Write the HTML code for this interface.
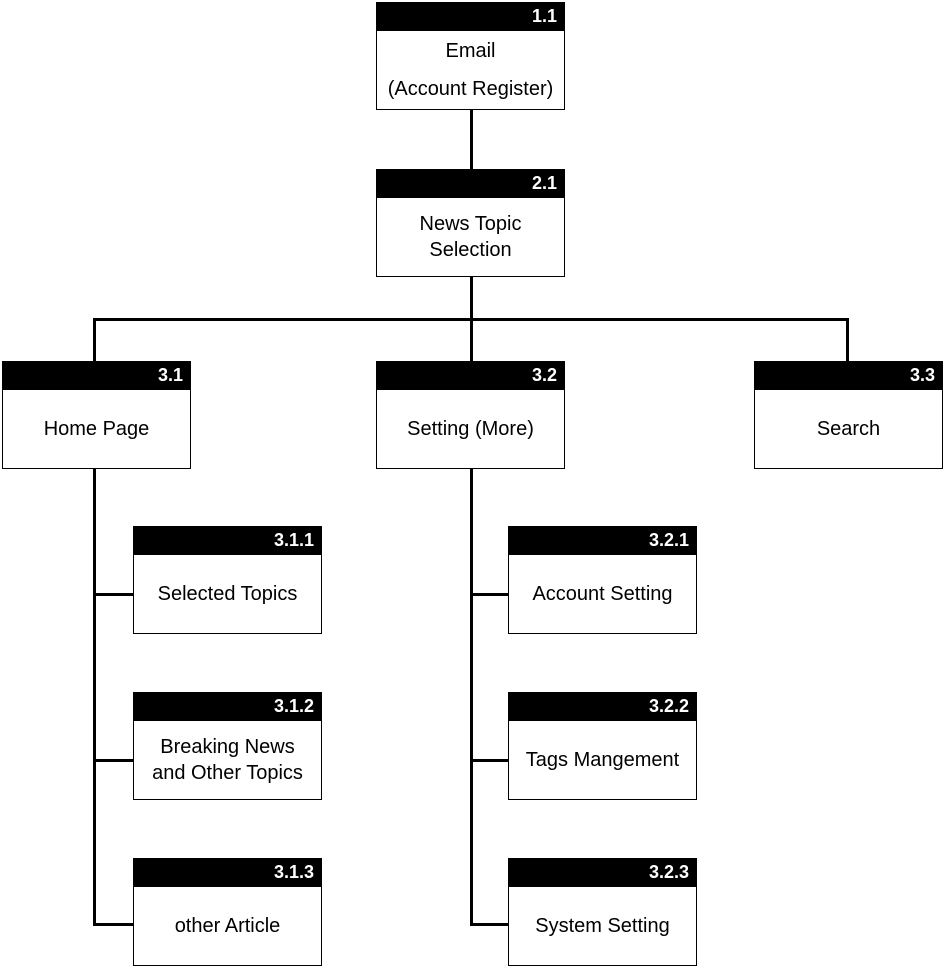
<!DOCTYPE html>
<html><head><style>
body{margin:0;width:945px;height:969px;background:#fff;position:relative;font-family:"Liberation Sans",sans-serif;overflow:hidden}
.b{position:absolute;width:187px;height:106px;border:1px solid #000;background:#fff;box-sizing:content-box}
.h{height:28px;background:#000;color:#fff;font-weight:bold;font-size:18px;text-align:right;padding-right:7px;line-height:26px}
.t{height:78px;display:flex;align-items:center;justify-content:center;text-align:center;font-size:20px;line-height:26px;color:#000}
.l{position:absolute;background:#000}
</style></head><body>
<div class="l" style="left:470px;top:108px;width:3px;height:62px"></div>
<div class="l" style="left:470px;top:276px;width:3px;height:86px"></div>
<div class="l" style="left:93px;top:318px;width:756px;height:3px"></div>
<div class="l" style="left:93px;top:318px;width:3px;height:44px"></div>
<div class="l" style="left:846px;top:318px;width:3px;height:44px"></div>
<div class="l" style="left:93px;top:468px;width:3px;height:458px"></div>
<div class="l" style="left:470px;top:468px;width:3px;height:458px"></div>
<div class="l" style="left:93px;top:593px;width:41px;height:3px"></div>
<div class="l" style="left:93px;top:759px;width:41px;height:3px"></div>
<div class="l" style="left:93px;top:923px;width:41px;height:3px"></div>
<div class="l" style="left:470px;top:593px;width:39px;height:3px"></div>
<div class="l" style="left:470px;top:759px;width:39px;height:3px"></div>
<div class="l" style="left:470px;top:923px;width:39px;height:3px"></div>

<div class="b" style="left:376px;top:2px"><div class="h">1.1</div><div class="t" style="flex-direction:column;line-height:38px">Email<br>(Account Register)</div></div>
<div class="b" style="left:376px;top:169px"><div class="h">2.1</div><div class="t">News Topic<br>Selection</div></div>
<div class="b" style="left:2px;top:361px"><div class="h">3.1</div><div class="t">Home Page</div></div>
<div class="b" style="left:376px;top:361px"><div class="h">3.2</div><div class="t">Setting (More)</div></div>
<div class="b" style="left:754px;top:361px"><div class="h">3.3</div><div class="t">Search</div></div>
<div class="b" style="left:133px;top:526px"><div class="h">3.1.1</div><div class="t">Selected Topics</div></div>
<div class="b" style="left:133px;top:692px"><div class="h">3.1.2</div><div class="t">Breaking News<br>and Other Topics</div></div>
<div class="b" style="left:133px;top:858px"><div class="h">3.1.3</div><div class="t">other Article</div></div>
<div class="b" style="left:508px;top:526px"><div class="h">3.2.1</div><div class="t">Account Setting</div></div>
<div class="b" style="left:508px;top:692px"><div class="h">3.2.2</div><div class="t">Tags Mangement</div></div>
<div class="b" style="left:508px;top:858px"><div class="h">3.2.3</div><div class="t">System Setting</div></div>
</body></html>
